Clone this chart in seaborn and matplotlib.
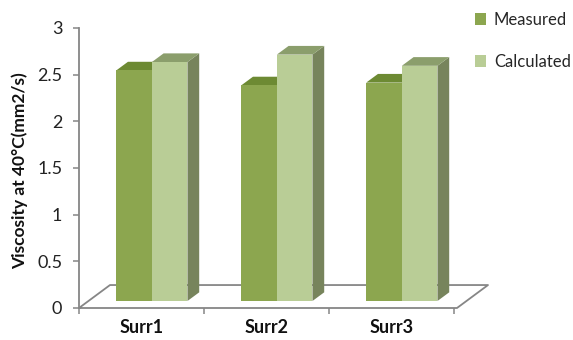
import matplotlib
matplotlib.use("Agg")
import matplotlib.pyplot as plt
from matplotlib.patches import Polygon, Rectangle
import seaborn as sns
import pandas as pd

# ---- data ----
categories = ["Surr1", "Surr2", "Surr3"]
measured = [2.47, 2.31, 2.34]
calculated = [2.56, 2.64, 2.52]
series_names = ["Measured", "Calculated"]
y_ticks = [0, 0.5, 1, 1.5, 2, 2.5, 3]
y_label = "Viscosity at 40°C(mm2/s)"

# ---- style ----
front_cols = ["#8CA64F", "#B9CD96"]
top_cols = ["#6D8A33", "#8B9E6C"]
side_cols = ["#5E7530", "#77845C"]
axis_col = "#868686"
FONT = ["Lato", "DejaVu Sans"]

sns.set_theme(style="white")
plt.rcParams["font.family"] = FONT

df = pd.DataFrame({
    "cat": categories * 2,
    "series": [series_names[0]] * len(categories) + [series_names[1]] * len(categories),
    "value": measured + calculated,
})

W, H = 573, 340
fig = plt.figure(figsize=(W / 100, H / 100), dpi=100)
ax = fig.add_axes([79 / W, 32 / H, 409 / W, 280 / H])

sns.barplot(data=df, x="cat", y="value", hue="series", hue_order=series_names,
            palette=front_cols, width=0.57, legend=False, ax=ax,
            saturation=1, linewidth=0, zorder=3)

ax.set_ylim(0, 3)
ax.set_xlim(-0.5, 2.772)

# oblique depth geometry (floor depth in data units)
depth_x, depth_y = 0.248, 0.246
front_dx, front_dy = depth_x / 3, 0.075   # bars start at 1/3 depth
bar_dx, bar_dy = 0.094, 0.093             # bar depth

# floor
n = len(categories)
fx0, fx1 = -0.5, n - 0.5 + 0.024
floor = [(fx0, 0), (fx1, 0), (fx1 + depth_x, depth_y), (fx0 + depth_x, depth_y), (fx0, 0)]
ax.plot([p[0] for p in floor], [p[1] for p in floor], color=axis_col, lw=1.3,
        clip_on=False, zorder=1)

for ci, cont in enumerate(ax.containers):
    for rect in cont:
        x0 = rect.get_x() + front_dx
        w = rect.get_width()
        h = rect.get_height()
        y0 = front_dy
        rect.set_x(x0)
        rect.set_y(y0)
        rect.set_clip_on(False)
        top = y0 + h
        side = Polygon([(x0 + w, y0), (x0 + w + bar_dx, y0 + bar_dy),
                        (x0 + w + bar_dx, top + bar_dy), (x0 + w, top)],
                       closed=True, facecolor=side_cols[ci], lw=0, clip_on=False,
                       zorder=2 + ci * 3)
        topf = Polygon([(x0, top), (x0 + w, top), (x0 + w + bar_dx, top + bar_dy),
                        (x0 + bar_dx, top + bar_dy)],
                       closed=True, facecolor=top_cols[ci], lw=0, clip_on=False,
                       zorder=2 + ci * 3)
        ax.add_patch(side)
        ax.add_patch(topf)
        rect.set_zorder(3 + ci * 3)

# axes styling
for s in ["top", "right", "bottom"]:
    ax.spines[s].set_visible(False)
ax.spines["left"].set_color(axis_col)
ax.spines["left"].set_linewidth(1.3)

ax.set_yticks(y_ticks)
ax.set_yticklabels([f"{t:g}" for t in y_ticks], fontsize=13, color="#222222")
ax.tick_params(axis="y", direction="out", length=4, width=1.1, color=axis_col,
               pad=8, left=True)

ax.set_xticks([i - 0.5 for i in range(n + 1)])
ax.set_xticklabels([""] * (n + 1))
ax.set_xticks(range(n), minor=True)
ax.set_xticklabels(categories, minor=True, fontsize=13, fontweight="bold", color="#111111")
ax.tick_params(axis="x", which="major", direction="out", length=4, width=1.1,
               color=axis_col, bottom=True)
ax.tick_params(axis="x", which="minor", length=0, pad=8, bottom=True)

ax.set_xlabel("")
ax.set_ylabel(y_label, fontsize=12.5, fontweight="bold", color="#111111")
ax.yaxis.set_label_coords(-0.125, 0.49)
ax.grid(False)

handles = [Rectangle((0, 0), 1, 1, facecolor=c, lw=0) for c in front_cols]
fig.legend(handles, series_names, loc="upper left", bbox_to_anchor=(475 / W, 1 - 12 / H),
           frameon=False, fontsize=12, labelspacing=1.55, handlelength=0.68,
           handleheight=0.68, handletextpad=0.45, borderaxespad=0, borderpad=0)

fig.savefig("out.png", dpi=100)
